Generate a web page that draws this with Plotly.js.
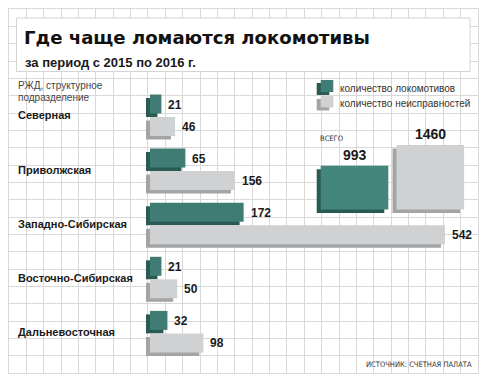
<!DOCTYPE html>
<html><head><meta charset="utf-8">
<script src="https://cdn.plot.ly/plotly-3.0.1.min.js"></script>
<style>html,body{margin:0;padding:0;background:#fff}</style>
</head><body><div id="chart" style="width:488px;height:380px"></div>
<script>
// ---- data ----
const regions = ['Северная', 'Приволжская', 'Западно-Сибирская', 'Восточно-Сибирская', 'Дальневосточная'];
const locomotives = [21, 65, 172, 21, 32];
const failures = [46, 156, 542, 50, 98];
const seriesNames = ['количество локомотивов', 'количество неисправностей'];
const totals = [993, 1460];
const titleText = 'Где чаще ломаются локомотивы';
const subtitleText = 'за период с 2015 по 2016 г.';
const axisNote = ['РЖД, структурное', 'подразделение'];
const totalNote = 'ВСЕГО';
const sourceText = 'ИСТОЧНИК: СЧЕТНАЯ ПАЛАТА';

// ---- geometry / styles ----
const W = 488, H = 380;
const GX0 = 9, GX1 = 478, GY0 = 9, GY1 = 373;
const fx = p => p / W, fy = p => 1 - p / H;
const BX0 = 150, BXS = 0.5443;
const xr2 = [(GX0 - BX0) / BXS, (GX1 - BX0) / BXS];
const CY0 = 117, CYS = 54.1;
const yr2 = [(GY1 - CY0) / CYS, (GY0 - CY0) / CYS];
const DX = 4, DY = 3.5, BH = 19;
const TX0 = 354.5, TXS = 75.8, TY0 = 209.5, TYS = 0.0441, TW = 67.6;
const xr3 = [(GX0 - TX0) / TXS, (GX1 - TX0) / TXS];
const yr3 = [(TY0 - GY1) / TYS, (TY0 - GY0) / TYS];

const tealFace = '#3f7c73', tealDepth = '#2a5a53', tealBig = '#44857c';
const greyFace = '#d0d1d3', greyDepth = '#a3a4a6';
const gridColor = '#d9d9d9';
const ink = '#1a1a1a';
const narrow = "'DejaVu Sans Condensed', 'Liberation Sans Narrow', 'Liberation Sans', sans-serif";

const hbar = (vals, base, offPx, color) => ({
  type: 'bar', orientation: 'h', y: regions, x: vals, base: base / BXS,
  offset: offPx / CYS, width: BH / CYS, xaxis: 'x2', yaxis: 'y2',
  marker: {color: color, line: {width: 0}}, hoverinfo: 'skip', showlegend: false
});
const vbar = (baseDy, offDx, colors) => ({
  type: 'bar', x: seriesNames, y: totals, base: baseDy / TYS,
  offset: -TW / 2 / TXS + offDx / TXS, width: TW / TXS, xaxis: 'x3', yaxis: 'y3',
  marker: {color: colors, line: {width: 0}}, hoverinfo: 'skip', showlegend: false
});

const data = [
  {type: 'scatter', x: [], y: [], xaxis: 'x', yaxis: 'y', hoverinfo: 'skip', showlegend: false},
  hbar(locomotives, -DX, -22.5 + DY, tealDepth),
  hbar(locomotives, 0, -22.5, tealFace),
  hbar(failures, -DX, DY, greyDepth),
  hbar(failures, 0, 0, greyFace),
  vbar(-DY, -DX, [tealDepth, greyDepth]),
  vbar(0, 0, [tealBig, greyFace])
];

const hidden = {showgrid: false, zeroline: false, showticklabels: false, ticks: '', showline: false, fixedrange: true};
const ann = [];
const txt = (o) => ann.push(Object.assign({showarrow: false}, o));

txt({xref: 'paper', yref: 'paper', x: fx(23), y: fy(62.7), xanchor: 'left', yanchor: 'middle', text: subtitleText,
  font: {family: 'Liberation Sans', size: 13, weight: 700, color: ink}});
txt({xref: 'paper', yref: 'paper', x: fx(18), y: fy(85), xanchor: 'left', yanchor: 'middle', text: axisNote[0],
  borderpad: 0, borderwidth: 0, font: {family: 'Liberation Sans', size: 10, color: '#444'}});
txt({xref: 'paper', yref: 'paper', x: fx(18), y: fy(97), xanchor: 'left', yanchor: 'middle', text: axisNote[1],
  borderpad: 0, borderwidth: 0, font: {family: 'Liberation Sans', size: 10, color: '#444'}});
regions.forEach((r, i) => {
  txt({xref: 'paper', yref: 'y2', x: fx(16), y: r, xanchor: 'left', yanchor: 'middle', yshift: 1.5, text: r,
    font: {family: 'Liberation Sans', size: 11, weight: 700, color: ink}});
  txt({xref: 'x2', yref: 'y2', x: locomotives[i], y: r, xanchor: 'left', yanchor: 'middle', xshift: 5, yshift: 12.3,
    text: String(locomotives[i]), font: {family: 'Liberation Sans', size: 12, weight: 700, color: ink}});
  txt({xref: 'x2', yref: 'y2', x: failures[i], y: r, xanchor: 'left', yanchor: 'middle', xshift: 5, yshift: -9.8,
    text: String(failures[i]), font: {family: 'Liberation Sans', size: 12, weight: 700, color: ink}});
});
seriesNames.forEach((s, i) => {
  txt({xref: 'x3', yref: 'y3', x: s, y: totals[i], xanchor: 'center', yanchor: 'bottom', yshift: 1,
    text: String(totals[i]), font: {family: 'Liberation Sans', size: 14, weight: 700, color: ink}});
  txt({xref: 'paper', yref: 'paper', x: fx(338), y: fy(89 + 14 * i), xanchor: 'left', yanchor: 'middle', text: s,
    font: {family: 'Liberation Sans', size: 10, color: '#333'}});
});
txt({xref: 'paper', yref: 'paper', x: fx(318), y: fy(138.3), xanchor: 'left', yanchor: 'middle', text: totalNote,
  font: {family: narrow, size: 7.5, color: '#333'}});
txt({xref: 'paper', yref: 'paper', x: fx(474), y: fy(364), xanchor: 'right', yanchor: 'middle', text: sourceText,
  font: {family: narrow, size: 7.5, color: '#333'}});

const rect = (x0, y0, x1, y1, fill, line) => ({type: 'rect', xref: 'paper', yref: 'paper', layer: 'above',
  x0: fx(x0), x1: fx(x1), y0: fy(y1), y1: fy(y0), fillcolor: fill, line: {width: line ? 1 : 0, color: line || fill}});
const shapes = [
  rect(16.5, 18, 470, 71.5, '#ffffff', '#d4d4d4'),
  rect(316.7, 83, 329.3, 95, tealDepth), rect(320.7, 80, 333.3, 92, tealFace),
  rect(316.7, 99, 329.3, 110.5, greyDepth), rect(320.7, 96, 333.3, 107.5, greyFace)
];

const layout = {
  width: W, height: H, margin: {l: 0, r: 0, t: 0, b: 0},
  paper_bgcolor: '#ffffff', plot_bgcolor: '#ffffff', barmode: 'overlay', showlegend: false,
  title: {text: titleText, x: fx(24), xanchor: 'left', y: fy(38), yanchor: 'middle', xref: 'paper', yref: 'paper',
    font: {family: 'DejaVu Sans', size: 18.1, weight: 700, color: '#111'}},
  xaxis: {domain: [fx(GX0), fx(GX1)], range: [0, 27], dtick: 1, tick0: 0, showgrid: true, gridcolor: gridColor, gridwidth: 1,
    zeroline: false, showticklabels: false, ticks: '', showline: true, mirror: true, linecolor: gridColor, linewidth: 1, fixedrange: true},
  yaxis: {domain: [1 - GY1 / H, 1 - GY0 / H], range: [0, 21], dtick: 1, tick0: 0, showgrid: true, gridcolor: gridColor, gridwidth: 1,
    zeroline: false, showticklabels: false, ticks: '', showline: true, mirror: true, linecolor: gridColor, linewidth: 1, fixedrange: true},
  xaxis2: Object.assign({overlaying: 'x', range: xr2}, hidden),
  yaxis2: Object.assign({overlaying: 'y', type: 'category', categoryorder: 'array', categoryarray: regions, range: yr2}, hidden),
  xaxis3: Object.assign({overlaying: 'x', type: 'category', categoryorder: 'array', categoryarray: seriesNames, range: xr3}, hidden),
  yaxis3: Object.assign({overlaying: 'y', range: yr3}, hidden),
  annotations: ann, shapes: shapes
};
Plotly.newPlot('chart', data, layout, {staticPlot: true, displayModeBar: false});
</script></body></html>
